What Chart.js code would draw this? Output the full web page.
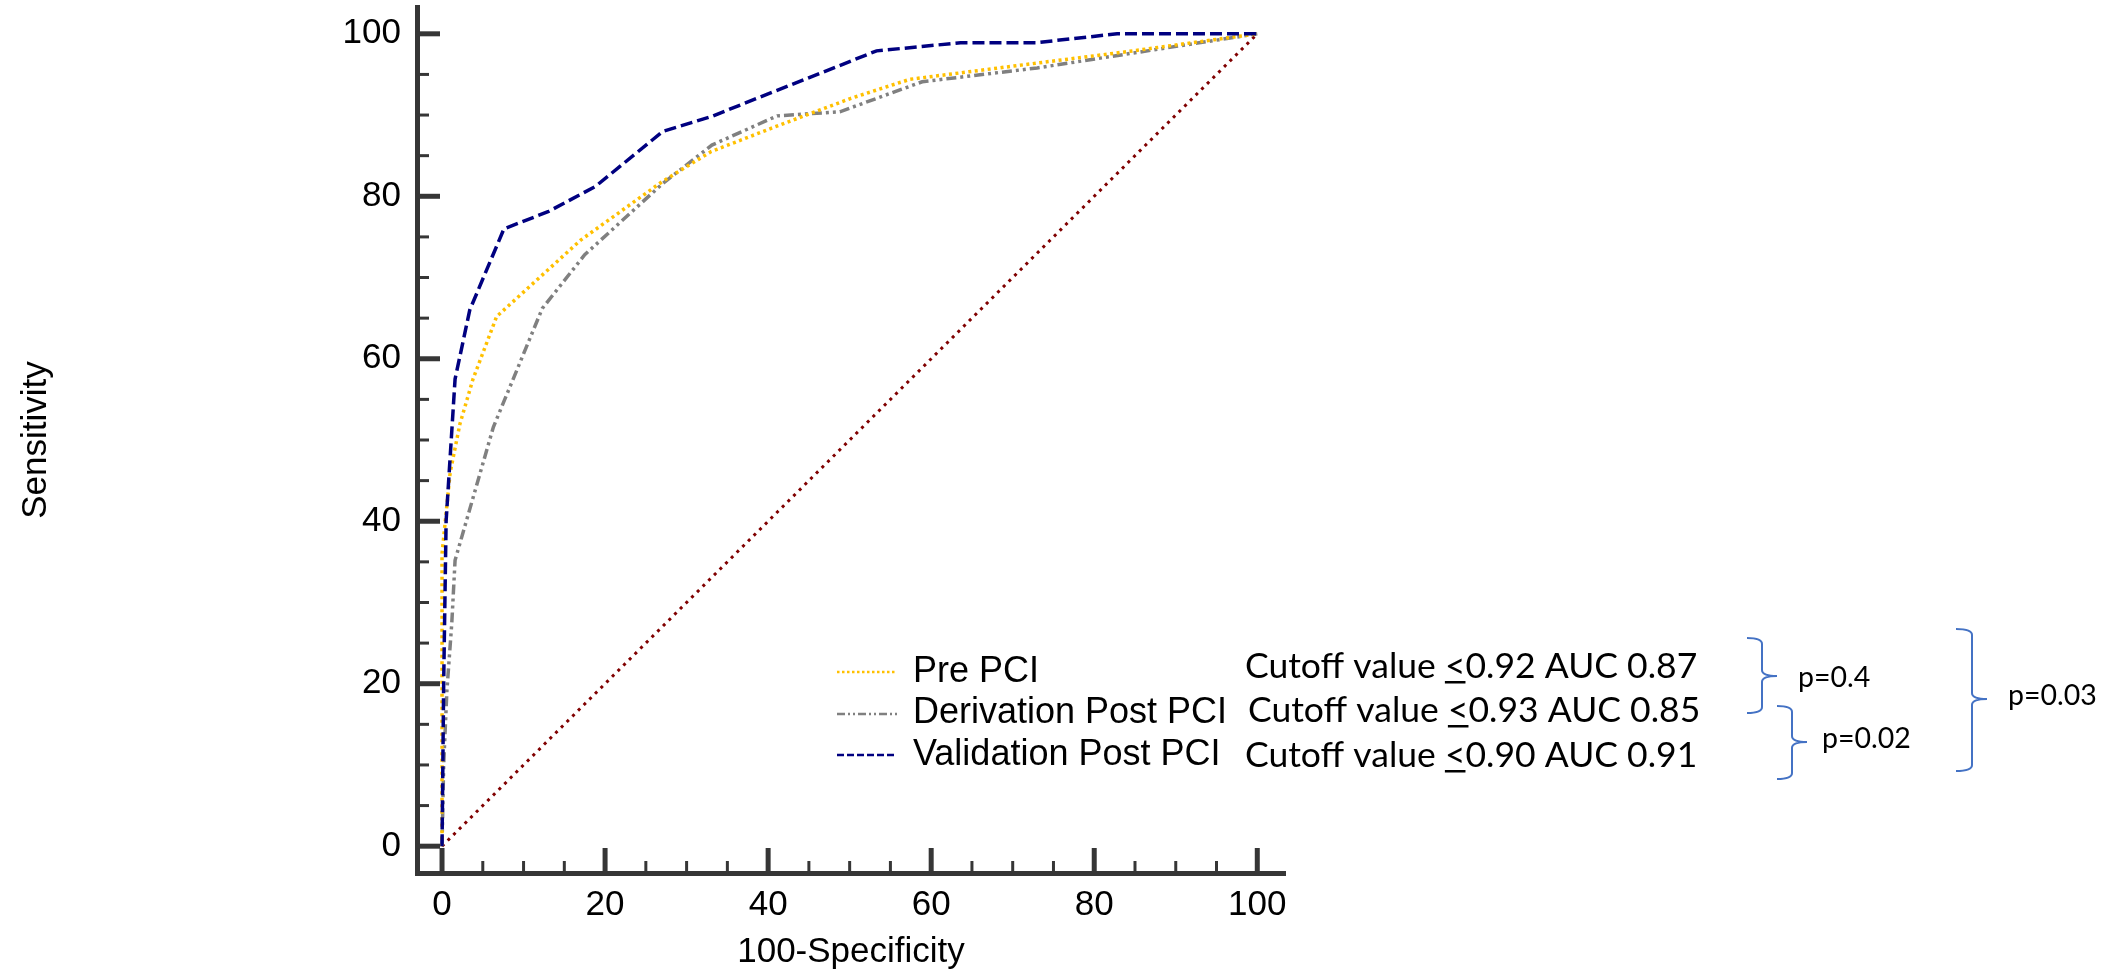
<!DOCTYPE html>
<html><head><meta charset="utf-8">
<script src="https://cdn.jsdelivr.net/npm/chart.js@4.4.1/dist/chart.umd.min.js"></script>
<style>html,body{margin:0;padding:0;background:#fff;overflow:hidden}</style>
</head><body>
<canvas id="c" width="2128" height="976"></canvas>
<script>
// ---- data ----
const tickValues = [0, 20, 40, 60, 80, 100];
const minorStep = 5;
const seriesLabels = ['Pre PCI', 'Derivation Post PCI', 'Validation Post PCI'];
const preX = [0, 0, 1, 2.2, 3.8, 6.7, 17, 27, 33, 41.5, 50, 57.4, 73, 84, 100];
const preY = [0, 36, 46, 52, 57.5, 65.2, 74.6, 81.8, 85.5, 88.8, 92, 94.4, 96.4, 97.8, 100];
const derX = [0, 0.2, 0.6, 1.2, 1.6, 6.3, 12.3, 17.5, 27.1, 33.1, 41.1, 48.8, 58.9, 73, 100];
const derY = [0, 10, 19.2, 27.5, 35.2, 51.6, 66.2, 72.8, 81.6, 86.3, 89.9, 90.4, 94.1, 95.8, 100];
const valX = [0, 0.2, 0.5, 1.6, 3.4, 7.6, 13, 18.8, 27.1, 33, 41, 53.3, 63.6, 72.8, 82.8, 100];
const valY = [0, 20, 40, 57.5, 66, 76, 78.1, 81.2, 88, 89.8, 93, 97.9, 98.9, 98.9, 100, 100];
const refX = [0, 100];
const refY = [0, 100];
const cutoffValues = ['0.92', '0.93', '0.90'];
const aucValues = ['0.87', '0.85', '0.91'];
const pLabels = ['p=0.4', 'p=0.02', 'p=0.03'];

const pts = (xs, ys) => xs.map((x, i) => ({x, y: ys[i]}));

const styles = {
  pre: {color: '#FFC000', dash: [3, 3.5], width: 3.5, legDash: [2.5, 2.5], legWidth: 2.5},
  der: {color: '#808080', dash: [10, 4, 3, 4, 3, 4], width: 3.5, legDash: [8, 3, 2, 3, 2, 3], legWidth: 2.5},
  val: {color: '#000080', dash: [12, 5], width: 3.5, legDash: [7, 3], legWidth: 2.5},
  ref: {color: '#800000', dash: [3, 5], width: 3}
};

const ds = (label, data, st) => ({
  label, data, showLine: true, borderColor: st.color, borderWidth: st.width,
  borderDash: st.dash, pointRadius: 0, fill: false, tension: 0, borderCapStyle: 'butt'
});

const datasets = [
  ds(seriesLabels[2], pts(valX, valY), styles.val),
  ds(seriesLabels[0], pts(preX, preY), styles.pre),
  ds(seriesLabels[1], pts(derX, derY), styles.der),
  ds('Reference', pts(refX, refY), styles.ref)
];

const AXIS_COLOR = '#363636';

const inwardTicks = {
  id: 'inwardTicks',
  afterDraw(chart) {
    const {ctx, chartArea} = chart;
    const xs = chart.scales.x, ys = chart.scales.y;
    ctx.save();
    ctx.strokeStyle = AXIS_COLOR;
    for (let v = 0; v <= 100; v += minorStep) {
      const major = tickValues.includes(v);
      ctx.lineWidth = major ? 5 : 3;
      const px = xs.getPixelForValue(v);
      ctx.beginPath();
      ctx.moveTo(px, chartArea.bottom);
      ctx.lineTo(px, chartArea.bottom - (major ? 25 : 12));
      ctx.stroke();
      const py = ys.getPixelForValue(v);
      ctx.beginPath();
      ctx.moveTo(chartArea.left, py);
      ctx.lineTo(chartArea.left + (major ? 23 : 12), py);
      ctx.stroke();
    }
    ctx.restore();
  }
};

const annotations = {
  id: 'annotations',
  afterDraw(chart) {
    const ctx = chart.ctx;
    ctx.save();
    // legend
    const legOrder = [[seriesLabels[0], styles.pre], [seriesLabels[1], styles.der], [seriesLabels[2], styles.val]];
    const legLineY = [672, 714, 755];
    const legBase = [682, 723, 765];
    legOrder.forEach(([lab, st], i) => {
      ctx.strokeStyle = st.color;
      ctx.lineWidth = st.legWidth;
      ctx.setLineDash(st.legDash);
      ctx.beginPath();
      ctx.moveTo(837, legLineY[i]);
      ctx.lineTo(897, legLineY[i]);
      ctx.stroke();
      ctx.setLineDash([]);
      ctx.fillStyle = '#000';
      ctx.font = '36px "Liberation Sans", Arial, sans-serif';
      ctx.textBaseline = 'alphabetic';
      ctx.textAlign = 'left';
      ctx.fillText(lab, 913, legBase[i]);
    });
    // cutoff text
    const cx = [1245, 1248, 1245];
    const cy = [678, 722, 767];
    ctx.font = '35.5px Lato, "Open Sans", sans-serif';
    cutoffValues.forEach((c, i) => {
      const pre = 'Cutoff value ';
      ctx.fillText(pre, cx[i], cy[i]);
      const w = ctx.measureText(pre).width;
      ctx.fillText('<', cx[i] + w, cy[i]);
      const lw = ctx.measureText('<').width;
      ctx.fillRect(cx[i] + w, cy[i] + 3, lw, 2.5);
      ctx.fillText(c + ' AUC ' + aucValues[i], cx[i] + w + lw, cy[i]);
    });
    // brackets
    const brackets = [
      {l: 1747, v: 1762, t: 1777, top: 638, mid: 676, bot: 713},
      {l: 1777, v: 1792, t: 1807, top: 706, mid: 742, bot: 779},
      {l: 1956, v: 1972, t: 1987, top: 629, mid: 699, bot: 771}
    ];
    ctx.strokeStyle = '#4472C4';
    ctx.lineWidth = 2;
    brackets.forEach(b => {
      ctx.beginPath();
      ctx.moveTo(b.l, b.top);
      ctx.quadraticCurveTo(b.v, b.top, b.v, b.top + 6);
      ctx.lineTo(b.v, b.mid - 6);
      ctx.quadraticCurveTo(b.v, b.mid, b.t, b.mid);
      ctx.moveTo(b.t, b.mid);
      ctx.quadraticCurveTo(b.v, b.mid, b.v, b.mid + 6);
      ctx.lineTo(b.v, b.bot - 6);
      ctx.quadraticCurveTo(b.v, b.bot, b.l, b.bot);
      ctx.stroke();
    });
    const px = [1798, 1822, 2008];
    const py = [687, 748, 705];
    ctx.font = '28.5px Lato, "Open Sans", sans-serif';
    pLabels.forEach((p, i) => ctx.fillText(p, px[i], py[i]));
    ctx.restore();
  }
};

const tickFont = {family: '"Liberation Sans", Arial, sans-serif', size: 35};
const titleFont = {family: '"Liberation Sans", Arial, sans-serif', size: 35};

new Chart(document.getElementById('c'), {
  type: 'scatter',
  data: {datasets},
  options: {
    responsive: false,
    devicePixelRatio: 1,
    animation: false,
    layout: {padding: {left: 0, right: 843, top: 7, bottom: 0}},
    plugins: {legend: {display: false}, tooltip: {enabled: false}},
    scales: {
      x: {
        type: 'linear', min: -3.07, max: 103.4,
        afterBuildTicks: s => { s.ticks = tickValues.map(v => ({value: v})); },
        afterFit: s => { s.height = 103; s.paddingLeft = 0; s.paddingRight = 0; },
        grid: {drawOnChartArea: false, drawTicks: false},
        border: {display: true, color: AXIS_COLOR, width: 5},
        ticks: {color: '#000', font: tickFont, padding: 11, maxRotation: 0, autoSkip: false},
        title: {display: true, text: '100-Specificity', color: '#000', font: titleFont, padding: {top: 0, bottom: 3}}
      },
      y: {
        type: 'linear', min: -3.3, max: 103.3,
        afterBuildTicks: s => { s.ticks = tickValues.map(v => ({value: v})); },
        afterFit: s => { s.width = 417; s.paddingTop = 0; s.paddingBottom = 0; },
        grid: {drawOnChartArea: false, drawTicks: false},
        border: {display: true, color: AXIS_COLOR, width: 5},
        ticks: {color: '#000', font: tickFont, padding: 16, autoSkip: false},
        title: {display: true, text: 'Sensitivity', color: '#000', font: titleFont, padding: {top: 15, bottom: 0}}
      }
    }
  },
  plugins: [inwardTicks, annotations]
});
</script>
</body></html>
